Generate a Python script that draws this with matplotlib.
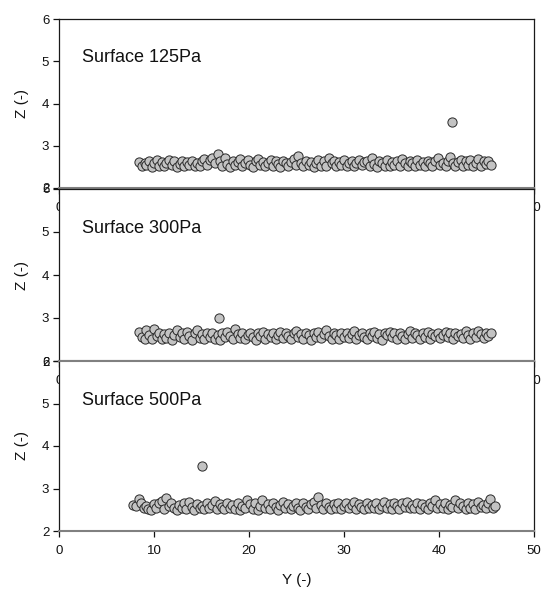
import matplotlib
matplotlib.use("Agg")
import matplotlib.pyplot as plt

plt.rcParams["font.family"] = ["Liberation Sans", "DejaVu Sans"]

# Particle positions along the surface (Y) for the 125Pa and 300Pa runs
y_pos_a = [
    8.4, 8.7, 9.0, 9.2, 9.5, 9.8, 10.0, 10.3, 10.5, 10.8,
    11.1, 11.3, 11.6, 11.9, 12.1, 12.4, 12.7, 12.9, 13.2, 13.5,
    13.7, 14.0, 14.3, 14.5, 14.8, 15.1, 15.3, 15.6, 15.9, 16.1,
    16.4, 16.7, 16.9, 17.2, 17.5, 17.7, 18.0, 18.3, 18.5, 18.8,
    19.1, 19.3, 19.6, 19.9, 20.1, 20.4, 20.7, 20.9, 21.2, 21.5,
    21.7, 22.0, 22.3, 22.5, 22.8, 23.1, 23.3, 23.6, 23.9, 24.1,
    24.4, 24.7, 24.9, 25.2, 25.5, 25.7, 26.0, 26.3, 26.5, 26.8,
    27.1, 27.3, 27.6, 27.9, 28.1, 28.4, 28.7, 28.9, 29.2, 29.5,
    29.7, 30.0, 30.3, 30.5, 30.8, 31.1, 31.3, 31.6, 31.9, 32.1,
    32.4, 32.7, 32.9, 33.2, 33.5, 33.7, 34.0, 34.3, 34.5, 34.8,
    35.1, 35.3, 35.6, 35.9, 36.1, 36.4, 36.7, 36.9, 37.2, 37.5,
    37.7, 38.0, 38.3, 38.5, 38.8, 39.1, 39.3, 39.6, 39.9, 40.1,
    40.4, 40.7, 40.9, 41.2, 41.5, 41.7, 42.0, 42.3, 42.5, 42.8,
    43.1, 43.3, 43.6, 43.9, 44.1, 44.4, 44.7, 44.9, 45.2, 45.5,
]

# Particle positions along the surface (Y) for the 500Pa run
y_pos_b = [
    7.8, 8.1, 8.4, 8.6, 8.9, 9.2, 9.4, 9.7, 10.0, 10.2,
    10.5, 10.8, 11.0, 11.3, 11.6, 11.8, 12.1, 12.4, 12.6, 12.9,
    13.2, 13.4, 13.7, 14.0, 14.2, 14.5, 14.8, 15.0, 15.3, 15.6,
    15.8, 16.1, 16.4, 16.6, 16.9, 17.2, 17.4, 17.7, 18.0, 18.2,
    18.5, 18.8, 19.0, 19.3, 19.6, 19.8, 20.1, 20.4, 20.6, 20.9,
    21.2, 21.4, 21.7, 22.0, 22.2, 22.5, 22.8, 23.0, 23.3, 23.6,
    23.8, 24.1, 24.4, 24.6, 24.9, 25.2, 25.4, 25.7, 26.0, 26.2,
    26.5, 26.8, 27.0, 27.3, 27.6, 27.8, 28.1, 28.4, 28.6, 28.9,
    29.2, 29.4, 29.7, 30.0, 30.2, 30.5, 30.8, 31.0, 31.3, 31.6,
    31.8, 32.1, 32.4, 32.6, 32.9, 33.2, 33.4, 33.7, 34.0, 34.2,
    34.5, 34.8, 35.0, 35.3, 35.6, 35.8, 36.1, 36.4, 36.6, 36.9,
    37.2, 37.4, 37.7, 38.0, 38.2, 38.5, 38.8, 39.0, 39.3, 39.6,
    39.8, 40.1, 40.4, 40.6, 40.9, 41.2, 41.4, 41.7, 42.0, 42.2,
    42.5, 42.8, 43.0, 43.3, 43.6, 43.8, 44.1, 44.4, 44.6, 44.9,
    45.2, 45.4, 45.7, 45.9,
]

z_125 = [
    2.62, 2.52, 2.60, 2.54, 2.65, 2.50, 2.58, 2.66, 2.53, 2.62,
    2.51, 2.60, 2.67, 2.54, 2.63, 2.50, 2.57, 2.64, 2.52, 2.61,
    2.55, 2.65, 2.51, 2.59, 2.53, 2.64, 2.68, 2.55, 2.66, 2.72,
    2.58, 2.80, 2.63, 2.52, 2.70, 2.57, 2.50, 2.65, 2.54, 2.62,
    2.68, 2.51, 2.60, 2.66, 2.54, 2.50, 2.63, 2.69, 2.55, 2.62,
    2.52, 2.60, 2.67, 2.53, 2.64, 2.56, 2.50, 2.65, 2.58, 2.52,
    2.62, 2.68, 2.54, 2.75, 2.60, 2.51, 2.65, 2.55, 2.62, 2.50,
    2.60, 2.67, 2.53, 2.64, 2.52, 2.72, 2.58, 2.65, 2.51, 2.62,
    2.55, 2.66, 2.52, 2.60, 2.64, 2.51, 2.58, 2.67, 2.54, 2.62,
    2.65, 2.52, 2.71, 2.56, 2.50, 2.63, 2.60, 2.53, 2.66, 2.51,
    2.62, 2.55, 2.65, 2.52, 2.68, 2.58, 2.51, 2.64, 2.60, 2.53,
    2.66, 2.55, 2.62, 2.51, 2.65, 2.58, 2.52, 2.64, 2.70, 2.55,
    2.60, 2.51, 2.65, 2.73, 2.58, 2.52, 2.62, 2.67, 2.53, 2.64,
    2.55, 2.66, 2.51, 2.60, 2.68, 2.53, 2.64, 2.57, 2.65, 2.55,
]

z_300 = [
    2.68, 2.55, 2.51, 2.72, 2.60, 2.52, 2.74, 2.57, 2.65, 2.51,
    2.62, 2.53, 2.66, 2.50, 2.60, 2.73, 2.55, 2.64, 2.51, 2.68,
    2.57, 2.50, 2.65, 2.72, 2.53, 2.62, 2.51, 2.66, 2.55, 2.64,
    2.52, 2.60, 2.50, 2.65, 2.55, 2.68, 2.57, 2.51, 2.74, 2.62,
    2.53, 2.65, 2.52, 2.60, 2.66, 2.55, 2.50, 2.64, 2.57, 2.67,
    2.52, 2.62, 2.55, 2.65, 2.51, 2.60, 2.68, 2.53, 2.64, 2.57,
    2.51, 2.65, 2.69, 2.55, 2.62, 2.52, 2.66, 2.60, 2.50, 2.64,
    2.55, 2.67, 2.53, 2.62, 2.72, 2.57, 2.52, 2.65, 2.60, 2.51,
    2.64, 2.55, 2.66, 2.53, 2.62, 2.69, 2.52, 2.60, 2.65, 2.55,
    2.51, 2.64, 2.57, 2.67, 2.53, 2.62, 2.50, 2.65, 2.60, 2.68,
    2.55, 2.64, 2.52, 2.66, 2.57, 2.51, 2.62, 2.70, 2.53, 2.65,
    2.60, 2.52, 2.64, 2.55, 2.67, 2.51, 2.62, 2.57, 2.65, 2.53,
    2.60, 2.68, 2.55, 2.64, 2.51, 2.66, 2.57, 2.62, 2.53, 2.69,
    2.60, 2.52, 2.65, 2.55, 2.70, 2.62, 2.53, 2.66, 2.57, 2.64,
]

z_500 = [
    2.62, 2.60, 2.75, 2.65, 2.55, 2.60, 2.52, 2.50, 2.64, 2.54,
    2.67, 2.71, 2.51, 2.77, 2.60, 2.66, 2.53, 2.50, 2.62, 2.55,
    2.65, 2.51, 2.68, 2.57, 2.50, 2.64, 2.53, 2.60, 2.51, 2.65,
    2.55, 2.62, 2.70, 2.52, 2.64, 2.57, 2.51, 2.66, 2.55, 2.62,
    2.52, 2.65, 2.50, 2.60, 2.53, 2.72, 2.64, 2.51, 2.67, 2.50,
    2.60, 2.74, 2.55, 2.64, 2.52, 2.66, 2.57, 2.50, 2.62, 2.69,
    2.53, 2.64, 2.51, 2.60, 2.67, 2.55, 2.50, 2.65, 2.57, 2.52,
    2.64, 2.68, 2.55, 2.79, 2.62, 2.51, 2.65, 2.57, 2.52, 2.64,
    2.55, 2.66, 2.51, 2.60, 2.65, 2.53, 2.62, 2.68, 2.52, 2.64,
    2.57, 2.51, 2.66, 2.55, 2.62, 2.53, 2.65, 2.51, 2.60, 2.69,
    2.55, 2.64, 2.52, 2.66, 2.60, 2.51, 2.65, 2.57, 2.68, 2.53,
    2.62, 2.55, 2.66, 2.52, 2.64, 2.57, 2.51, 2.65, 2.60, 2.72,
    2.53, 2.64, 2.55, 2.67, 2.52, 2.62, 2.57, 2.73, 2.53, 2.65,
    2.60, 2.52, 2.66, 2.55, 2.64, 2.51, 2.68, 2.57, 2.62, 2.53,
    2.65, 2.76, 2.55, 2.60,
]

# Isolated particles lifted off the surface
outlier_y = [41.4, 16.8, 15.05]
outlier_z = [3.57, 3.00, 3.52]

labels = ["Surface 125Pa", "Surface 300Pa", "Surface 500Pa"]
x_ticks = [0, 10, 20, 30, 40, 50]
z_ticks = [2, 3, 4, 5, 6]

panels = [
    (y_pos_a, z_125),
    (y_pos_a, z_300),
    (y_pos_b, z_500),
]

W, H = 544, 590
fig = plt.figure(figsize=(W / 100, H / 100), dpi=100)

left_px, right_px = 59, 534
rows_px = [(19, 188), (189, 361), (361, 531)]

for i, ((ys, zs), lab) in enumerate(zip(panels, labels)):
    top, bot = rows_px[i]
    ax = fig.add_axes([left_px / W, 1 - bot / H,
                       (right_px - left_px) / W, (bot - top) / H])
    ax.set_zorder(i)
    ax.scatter(ys + [outlier_y[i]], zs + [outlier_z[i]], s=44,
               facecolor="#c3c3c3", edgecolor="#2a2a2a", linewidth=0.7,
               zorder=3)
    ax.set_xlim(0, 50)
    ax.set_ylim(2, 6)
    ax.set_xticks(x_ticks)
    ax.set_yticks(z_ticks)
    ax.tick_params(axis="both", direction="out", length=4, width=0.9,
                   labelsize=9.5, colors="#111111")
    ax.tick_params(axis="x", pad=6)
    ax.tick_params(axis="y", pad=3)
    for side in ("left", "right", "top"):
        ax.spines[side].set_color("#1a1a1a")
        ax.spines[side].set_linewidth(0.9)
    ax.spines["bottom"].set_color("#808080")
    ax.spines["bottom"].set_linewidth(1.5)
    if i == 2:
        ax.spines["top"].set_color("#808080")
        ax.spines["top"].set_linewidth(1.5)
    ax.text(0.048, 0.77, lab, transform=ax.transAxes, fontsize=13,
            ha="left", va="center", color="#111111")
    ax.set_ylabel("Z (-)", fontsize=11, color="#111111")
    ax.yaxis.set_label_coords(-0.063, 0.5)
    if i == 2:
        ax.set_xlabel("Y (-)", fontsize=11, color="#111111")
        ax.xaxis.set_label_coords(0.5, -0.245)

fig.savefig("out.png", dpi=100, facecolor="white")
